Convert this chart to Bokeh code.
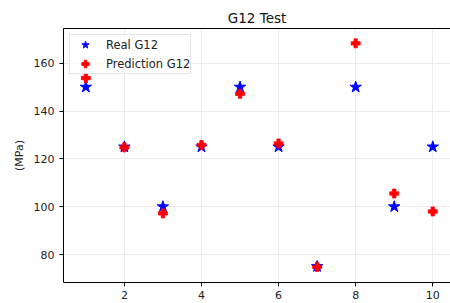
from bokeh.plotting import figure
from bokeh.models import (Range1d, FixedTicker, LinearAxis, Legend, LegendItem,
                          ColumnDataSource)
from bokeh.embed import file_html
from bokeh.resources import INLINE

# ---- data ----
sample = [1, 2, 3, 4, 5, 6, 7, 8, 9, 10]
real_g12 = [150, 125, 100, 125, 150, 125, 75, 150, 100, 125]
pred_g12 = [153.8, 124.8, 97.2, 125.8, 147.2, 126.4, 74.8, 168.3, 105.5, 98.0]
x_ticks = [2, 4, 6, 8, 10]
y_ticks = [80, 100, 120, 140, 160]

FONT = "DejaVu Sans"

p = figure(width=450, height=303, output_backend="svg", toolbar_location=None,
           x_range=Range1d(0.42, 10.46), y_range=Range1d(68.3, 174.5),
           min_border_left=63, min_border_right=0, min_border_top=28,
           min_border_bottom=21, title="G12 Test")

p.title.align = "center"
p.title.text_font = FONT
p.title.text_font_size = "13.5px"
p.title.text_font_style = "normal"
p.title.text_color = "#111111"
p.title.standoff = 5
p.title.offset = 0

p.outline_line_color = None
p.background_fill_color = "white"
p.border_fill_color = "white"

for ax in (p.xaxis[0], p.yaxis[0]):
    ax.axis_line_color = "#000000"
    ax.axis_line_width = 1
    ax.major_tick_line_color = "#000000"
    ax.major_tick_out = 4
    ax.major_tick_in = 0
    ax.minor_tick_line_color = None
    ax.major_label_text_font = FONT
    ax.major_label_text_font_size = "11px"
    ax.major_label_text_color = "#222222"
    ax.major_label_standoff = 5

p.xaxis[0].major_label_standoff = 4
p.xaxis[0].ticker = FixedTicker(ticks=x_ticks)
p.yaxis[0].ticker = FixedTicker(ticks=y_ticks)
p.yaxis[0].axis_label = "(MPa)"
p.yaxis[0].axis_label_text_font = FONT
p.yaxis[0].axis_label_text_font_size = "11px"
p.yaxis[0].axis_label_text_font_style = "normal"
p.yaxis[0].axis_label_text_color = "#222222"
p.yaxis[0].axis_label_standoff = 5

# top spine
top = LinearAxis(ticker=FixedTicker(ticks=[]), major_tick_out=0, major_tick_in=0,
                 minor_tick_out=0, minor_tick_in=0, major_label_text_font_size="0px",
                 axis_line_color="#000000", axis_line_width=1)
p.add_layout(top, "above")

p.xgrid.ticker = FixedTicker(ticks=x_ticks)
p.ygrid.ticker = FixedTicker(ticks=y_ticks)
p.grid.grid_line_color = "#ebebeb"
p.grid.grid_line_width = 1

src = ColumnDataSource(dict(x=sample, real=real_g12, pred=pred_g12))
r_real = p.scatter("x", "real", source=src, marker="star", size=12,
                   fill_color="#0000ff", line_color="#0000ff", line_width=1)
r_pred = p.scatter("x", "pred", source=src, marker="plus", size=9,
                   fill_color="#ff0000", line_color="#ff0000", line_width=0.8)

legend = Legend(items=[LegendItem(label="Real G12", renderers=[r_real]),
                       LegendItem(label="Prediction G12", renderers=[r_pred])],
                location="top_left")
legend.margin = 6
legend.padding = 0
legend.spacing = 0
legend.glyph_width = 30
legend.glyph_height = 19
legend.label_standoff = 6
legend.label_text_font = FONT
legend.label_text_font_size = "11.5px"
legend.label_text_color = "#222222"
legend.border_line_color = "#cccccc"
legend.border_line_width = 1
legend.background_fill_alpha = 0.8
p.add_layout(legend)

open("out.html", "w").write(file_html(p, INLINE))
